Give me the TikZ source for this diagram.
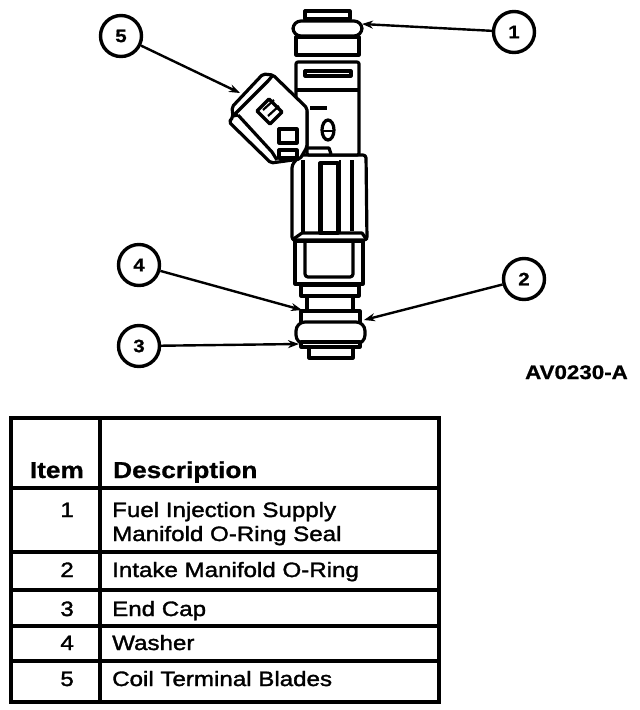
\documentclass[tikz,border=0pt]{standalone}
\usepackage{fontspec}
\setmainfont{Liberation Sans}
\newfontfamily\bodyf[FakeBold=1.6,FakeStretch=1.16]{Liberation Sans}
\newfontfamily\headf[FakeBold=0.8,FakeStretch=1.14]{Liberation Sans Bold}
\usetikzlibrary{arrows.meta}
\tikzset{
  part/.style={draw=black,line width=3.2pt,line join=round,fill=white},
  edge/.style={draw=black,line width=3.2pt,line join=round},
  thin edge/.style={draw=black,line width=2.2pt},
  callout/.style={circle,draw=black,line width=3.4pt,minimum size=41pt,inner sep=0pt,font=\headf\fontsize{18}{18}\selectfont},
  leader/.style={draw=black,line width=2.4pt,-{Stealth[length=11pt,width=8pt]}},
  rule/.style={draw=black,line width=3.4pt},
  bodytxt/.style={anchor=base west,inner sep=0pt,align=left,font=\bodyf\fontsize{20.8}{27}\selectfont},
  numtxt/.style={anchor=base east,inner sep=0pt,font=\bodyf\fontsize{20.8}{27}\selectfont},
  headtxt/.style={anchor=base west,inner sep=0pt,font=\headf\fontsize{23}{26}\selectfont}
}
\begin{document}
\begin{tikzpicture}[x=1pt,y=-1pt]
\useasboundingbox (0,0) rectangle (640,710);
% --- injector, lower part
\draw[part] (309,345) rectangle (353,358);
\draw[part] (307,296) rectangle (353,311);
\draw[part] (301,285) rectangle (359,296);
\draw[part] (295,241) rectangle (363,284);
\draw[edge,rounded corners=3pt] (305,243) -- (305,277) -- (353,277) -- (353,243);
\draw[part] (301,311) rectangle (360,323);
\draw[part,rounded corners=9pt] (296,322) -- (365,322) -- (365,344) -- (296,344) -- cycle;
\draw[part] (301,342) rectangle (360,347);
% --- middle body
\draw[part,rounded corners=3pt] (292,240) -- (292,165) -- (300,155) -- (366,155) -- (367,240) -- cycle;
\draw[edge] (292,240) -- (302,233) -- (362,233) -- (367,240);
\draw[edge] (303,160) -- (303,233);
\draw[edge] (352,160) -- (352,231);
\draw[part] (320,163) rectangle (338,233);
\draw[draw=black,line width=4.5pt] (321,163) -- (321,233);
\draw[thin edge] (340,160) -- (340,233);
% --- top of injector
\draw[part] (305,11) rectangle (350,19);
\draw[part] (296,37) rectangle (359,55);
\draw[part,rounded corners=8pt] (293,21) -- (362,21) -- (362,36) -- (293,36) -- cycle;
\draw[part,rounded corners=2pt] (296,62) -- (359,62) -- (359,155) -- (307,155) -- (307,110) -- (296,100) -- cycle;
\draw[edge] (296,90) -- (359,90);
\draw[edge] (305,71) rectangle (351,76);
\draw[edge] (310,108) -- (327,108);
\draw[edge] (328,130) ellipse [x radius=6,y radius=10];
\draw[thin edge] (322,131) -- (334,131);
\draw[edge] (307,148) -- (329,148) -- (331,154);
% --- electrical connector
\draw[part,rounded corners=2pt] (229,122) -- (233,117) -- (232,107) -- (263,74) -- (273,75) -- (307,108) -- (307,147) -- (300,159) -- (271,163) -- cycle;
\draw[edge] (233,116) -- (268,81) -- (273,75);
\draw[edge] (238,115) -- (272,152) -- (277,160);
\draw[edge] (233,116) -- (238,115);
\draw[edge] (269,99) -- (282,112) -- (270,124) -- (257,111) -- cycle;
\draw[thin edge] (263,110) -- (274,100);
\draw[thin edge] (268,116) -- (279,106);
\draw[edge] (279,129) rectangle (297,143);
\draw[edge] (279,150) rectangle (297,158);
% --- callouts
\node[callout] (c1) at (514,32) {1};
\node[callout] (c5) at (121,36) {5};
\node[callout] (c4) at (139,265) {4};
\node[callout] (c2) at (524,279) {2};
\node[callout] (c3) at (139,346) {3};
\coordinate (t1) at (362,24);
\coordinate (t5) at (240,93);
\coordinate (t4) at (302,310);
\coordinate (t2) at (364,320);
\coordinate (t3) at (299,344);
\draw[leader] (c1) -- (t1);
\draw[leader] (c5) -- (t5);
\draw[leader] (c4) -- (t4);
\draw[leader] (c2) -- (t2);
\draw[leader] (c3) -- (t3);
\node[anchor=base east,inner sep=0pt,font=\headf\fontsize{19.6}{22}\selectfont] (code) at (628,379) {AV0230-A};
% --- table
\draw[rule] (11,418) rectangle (439,702);
\draw[rule] (100,418) -- (100,702);
\foreach \yy in {488,552,590,626,661} \draw[rule] (11,\yy) -- (439,\yy);
\node[headtxt,anchor=base east] (hitem) at (84,478) {Item};
\node[headtxt] (hdesc) at (113,478) {Description};
\node[numtxt] (n1) at (74,517) {1};
\node[numtxt] (n2) at (74,577) {2};
\node[numtxt] (n3) at (74,616) {3};
\node[numtxt] (n4) at (74,650) {4};
\node[numtxt] (n5) at (74,686) {5};
\node[bodytxt] (d1) at (112,517) {Fuel Injection Supply};
\node[bodytxt] (d1b) at (112,541) {Manifold O-Ring Seal};
\node[bodytxt] (d2) at (112,577) {Intake Manifold O-Ring};
\node[bodytxt] (d3) at (112,616) {End Cap};
\node[bodytxt] (d4) at (112,650) {Washer};
\node[bodytxt] (d5) at (112,686) {Coil Terminal Blades};
\end{tikzpicture}
\end{document}
